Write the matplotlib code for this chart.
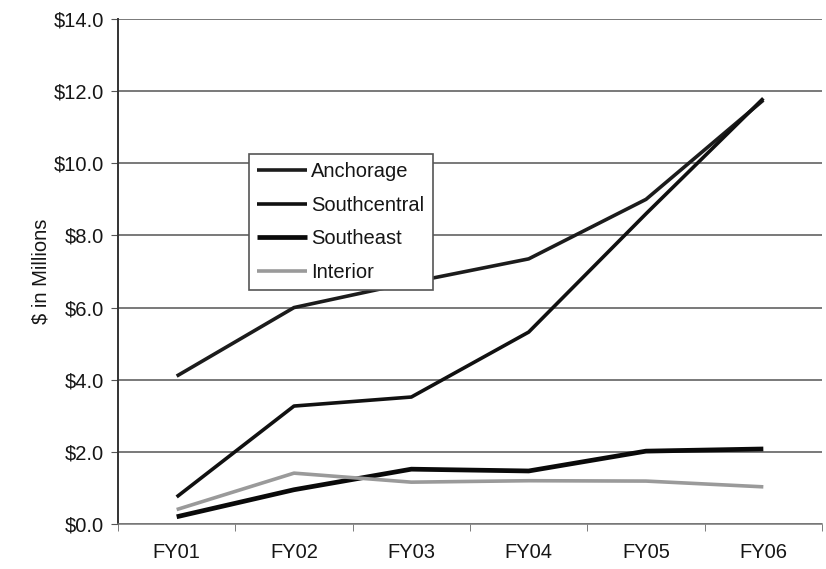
import matplotlib
matplotlib.use("Agg")
import matplotlib.pyplot as plt
from matplotlib.ticker import FuncFormatter, MultipleLocator

plt.rcParams['font.family'] = ['Liberation Sans', 'DejaVu Sans']

years = ["FY01", "FY02", "FY03", "FY04", "FY05", "FY06"]
anchorage = [4.1, 6.0, 6.7, 7.35, 9.0, 11.75]
southcentral = [0.75, 3.27, 3.52, 5.32, 8.6, 11.8]
southeast = [0.2, 0.95, 1.52, 1.47, 2.02, 2.08]
interior = [0.4, 1.41, 1.16, 1.2, 1.19, 1.03]

text_color = "#161616"

fig = plt.figure(figsize=(8.26, 5.69), dpi=100)
ax = fig.add_axes([118 / 826, 45 / 569, 704 / 826, 505 / 569])

x = list(range(len(years)))
ax.plot(x, anchorage, color="#1c1c1c", lw=2.6, label="Anchorage", solid_capstyle="butt")
ax.plot(x, southcentral, color="#111111", lw=2.6, label="Southcentral", solid_capstyle="butt")
ax.plot(x, southeast, color="#0a0a0a", lw=3.4, label="Southeast", solid_capstyle="butt")
ax.plot(x, interior, color="#9a9a9a", lw=2.6, label="Interior", solid_capstyle="butt")

ax.set_xlim(-0.5, len(years) - 0.5)
ax.set_ylim(0, 14)
ax.yaxis.set_major_locator(MultipleLocator(2))
ax.yaxis.set_major_formatter(FuncFormatter(lambda v, p: f"${v:.1f}"))
ax.set_xticks(x)
ax.set_xticklabels(years)
ax.set_xticks([i - 0.5 for i in range(len(years) + 1)], minor=True)

ax.grid(axis="y", color="#555555", lw=1.1)
ax.set_axisbelow(True)
for s in ("top", "right"):
    ax.spines[s].set_visible(False)
ax.spines["left"].set_color("#333333")
ax.spines["left"].set_linewidth(1.4)
ax.spines["bottom"].set_color("#777777")
ax.spines["bottom"].set_linewidth(1.1)

ax.tick_params(axis="x", which="major", length=0, pad=14, labelsize=14.5, labelcolor=text_color)
ax.tick_params(axis="x", which="minor", length=5, color="#666666", direction="out")
ax.tick_params(axis="y", length=5, color="#555555", pad=5, labelsize=14.5, labelcolor=text_color)

ax.set_ylabel("$ in Millions", fontsize=14.5, color=text_color, labelpad=2)

leg = ax.legend(loc="upper left", bbox_to_anchor=((249 - 118) / 704, (524 - 154) / 505),
                fontsize=14.5, frameon=True, fancybox=False, edgecolor="#555555",
                framealpha=1.0, handlelength=2.5, handletextpad=0.2, borderpad=0.4,
                labelspacing=0.72, borderaxespad=0)
leg.get_frame().set_linewidth(1.2)
for t in leg.get_texts():
    t.set_color(text_color)

fig.savefig("out.png", dpi=100, facecolor="white")
